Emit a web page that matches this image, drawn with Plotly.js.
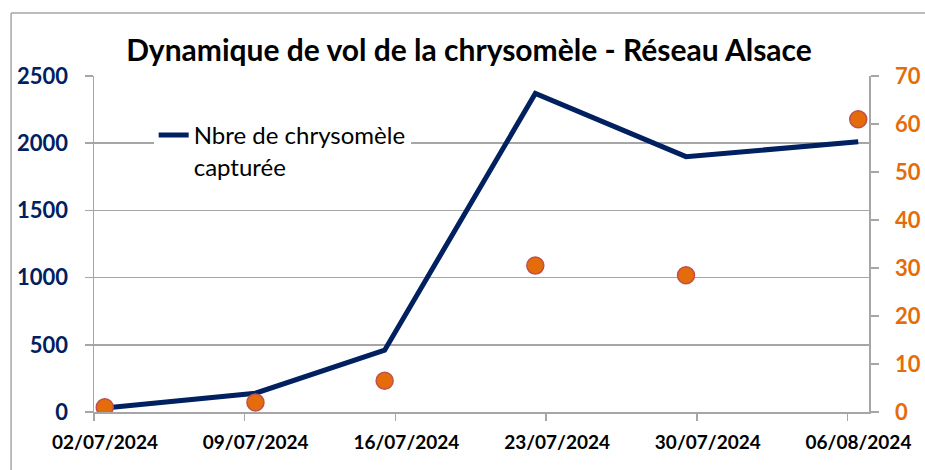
<!DOCTYPE html>
<html><head><meta charset="utf-8">
<script src="https://cdn.plot.ly/plotly-3.0.1.min.js"></script>
<style>html,body{margin:0;padding:0;background:#fff}#chart{width:925px;height:470px}</style>
</head><body><div id="chart"></div>
<script>
// Data
const dates = ['2024-07-02','2024-07-09','2024-07-15','2024-07-22','2024-07-29','2024-08-06'];
const captures = [30, 140, 460, 2370, 1900, 2010];
const secondSeries = [1, 2, 6.5, 30.5, 28.5, 61];
const tickDates = ['2024-07-02','2024-07-09','2024-07-16','2024-07-23','2024-07-30','2024-08-06'];
const tickLabels = ['02/07/2024','09/07/2024','16/07/2024','23/07/2024','30/07/2024','06/08/2024'];
const seriesName = 'Nbre de chrysomèle<br>capturée';

const FONT = 'Lato, "Open Sans", sans-serif';
const GRID = '#a6a6a6';
const NAVY = '#002060';
const ORANGE = '#E46C0A';
const xs = dates.map(d => d + ' 12:00');

const traces = [
  {x: xs, y: captures, type: 'scatter', mode: 'lines', name: seriesName,
   line: {color: NAVY, width: 5}, yaxis: 'y'},
  {x: xs, y: secondSeries, type: 'scatter', mode: 'markers', showlegend: false,
   marker: {color: ORANGE, size: 17, line: {color: '#C0504D', width: 1.5}}, yaxis: 'y2'}
];

const layout = {
  width: 925, height: 470,
  margin: {l: 94, r: 56, t: 76, b: 58},
  paper_bgcolor: '#fff', plot_bgcolor: '#fff',
  font: {family: FONT, color: '#000'},
  title: {text: 'Dynamique de vol de la chrysomèle - Réseau Alsace',
          font: {family: FONT, size: 30, color: '#000', weight: 'bold'},
          x: 0.507, xanchor: 'center', y: 0.893, yanchor: 'middle'},
  xaxis: {type: 'date', range: ['2024-07-02', '2024-08-07'],
          tickmode: 'array', tickvals: tickDates, ticktext: tickLabels,
          ticks: 'outside', ticklen: 7, tickwidth: 1.5, tickcolor: GRID,
          showline: true, linecolor: GRID, linewidth: 1.5, showgrid: false, zeroline: false,
          ticklabelshift: 11, ticklabelstandoff: 6,
          tickfont: {family: FONT, size: 19, color: '#000', weight: 'bold'}},
  yaxis: {range: [0, 2500], dtick: 500, tick0: 0,
          showgrid: true, gridcolor: GRID, gridwidth: 1.5, zeroline: false,
          showline: true, linecolor: GRID, linewidth: 1.5,
          ticks: 'outside', ticklen: 8, tickwidth: 1.5, tickcolor: GRID,
          ticklabelstandoff: 12,
          tickfont: {family: FONT, size: 22, color: NAVY, weight: 'bold'}},
  yaxis2: {range: [0, 70], dtick: 10, tick0: 0, overlaying: 'y', side: 'right',
           showgrid: false, zeroline: false,
           showline: true, linecolor: GRID, linewidth: 1.5,
           ticks: 'outside', ticklen: 8, tickwidth: 1.5, tickcolor: GRID,
           ticklabelstandoff: 12,
           tickfont: {family: FONT, size: 22, color: ORANGE, weight: 'bold'}},
  showlegend: true,
  legend: {x: 0.077, y: 0.89, xanchor: 'left', yanchor: 'top', bgcolor: '#fff',
           borderwidth: 0, valign: 'top', font: {family: FONT, size: 24, color: '#000'}},
  shapes: [
    {type: 'line', xref: 'paper', yref: 'paper', x0: -0.107, x1: -0.107, y0: 1.1875, y1: -0.2,
     line: {color: GRID, width: 1.5}},
    {type: 'line', xref: 'paper', yref: 'paper', x0: -0.107, x1: 1.1, y0: 1.1875, y1: 1.1875,
     line: {color: GRID, width: 1.5}}
  ]
};

Plotly.newPlot('chart', traces, layout, {displayModeBar: false, staticPlot: true});
</script></body></html>
